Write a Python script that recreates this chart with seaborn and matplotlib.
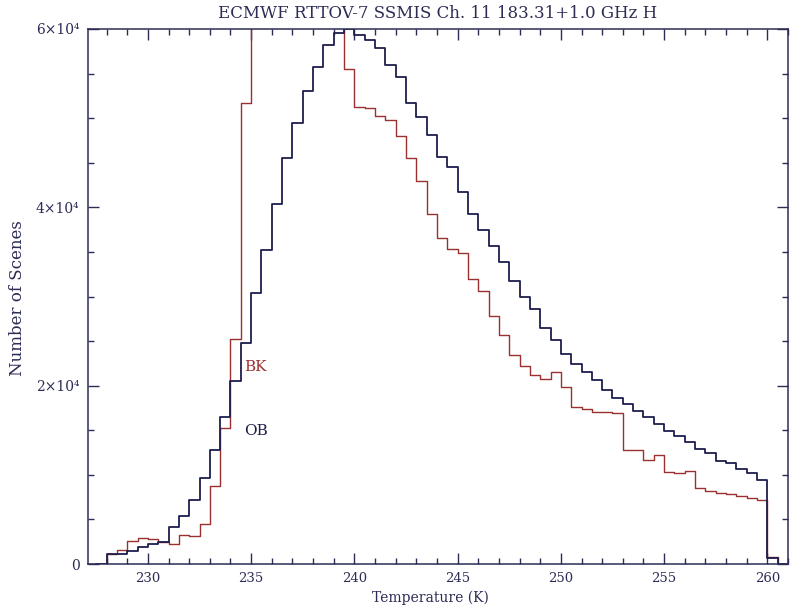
import numpy as np
import pandas as pd
import matplotlib
matplotlib.use("Agg")
import matplotlib.pyplot as plt
import seaborn as sns
from matplotlib.ticker import MultipleLocator

# ---------------- data (counts in units of 10^4 scenes, 0.5 K bins) ----------------
bin_width = 0.5
bin_left = np.arange(227.5, 261.0, bin_width)   # lower edges of the temperature bins (K)

ob_counts = [0.00, 0.11, 0.11, 0.15, 0.19, 0.22, 0.25, 0.42, 0.54, 0.72, 0.97, 1.28, 1.65, 2.05, 2.48,
             3.04, 3.52, 4.04, 4.55, 4.95, 5.30, 5.57, 5.82, 5.95, 6.00,
             5.93, 5.88, 5.79, 5.60, 5.46, 5.17, 5.01, 4.81, 4.56, 4.45,
             4.17, 3.92, 3.75, 3.57, 3.39, 3.17, 3.00, 2.86, 2.65, 2.51,
             2.35, 2.24, 2.15, 2.06, 1.95, 1.86, 1.79, 1.72, 1.65, 1.57,
             1.49, 1.44, 1.37, 1.29, 1.25, 1.16, 1.13, 1.06, 1.02, 0.94,
             0.07, 0.00]

bk_counts = [0.00, 0.11, 0.16, 0.26, 0.29, 0.28, 0.25, 0.22, 0.33, 0.31, 0.45, 0.88, 1.52, 2.52, 5.17,
             6.60, 7.40, 8.00, 8.30, 8.20, 7.80, 7.20, 6.70, 6.30, 5.55,
             5.13, 5.11, 5.02, 4.98, 4.80, 4.55, 4.29, 3.92, 3.66, 3.53,
             3.49, 3.20, 3.06, 2.78, 2.57, 2.34, 2.22, 2.12, 2.07, 2.15,
             1.98, 1.76, 1.74, 1.71, 1.70, 1.69, 1.28, 1.28, 1.17, 1.22,
             1.03, 1.02, 1.04, 0.85, 0.82, 0.80, 0.79, 0.76, 0.74, 0.72,
             0.08, 0.00]

series_names = ["OB", "BK"]
x_ticks = [230, 235, 240, 245, 250, 255, 260]
y_ticks = [0, 2, 4, 6]
y_tick_labels = ["0", "2×10⁴", "4×10⁴", "6×10⁴"]
title_text = "ECMWF RTTOV-7 SSMIS Ch. 11 183.31+1.0 GHz H"
x_label = "Temperature (K)"
y_label = "Number of Scenes"

# ---------------- styling ----------------
sns.set_theme(style="ticks")
plt.rcParams["font.family"] = ["DejaVu Serif", "Liberation Serif"]

ink = "#2c2c55"
ob_color = "#1e1e4e"
bk_color = "#9a3030"

n = len(bin_left)
df = pd.DataFrame({
    "T": np.concatenate([bin_left + bin_width / 2, bin_left + bin_width / 2]),
    "count": ob_counts + bk_counts,
    "series": [series_names[0]] * n + [series_names[1]] * n,
})
edges = [float(e) for e in np.append(bin_left, bin_left[-1] + bin_width)]

fig = plt.figure(figsize=(7.9, 6.09), dpi=100)
ax = fig.add_axes([88 / 790, 1 - 564 / 609, 700 / 790, 535 / 609])

for name, color, lw in [("BK", bk_color, 1.0), ("OB", ob_color, 1.3)]:
    sub = df[df["series"] == name]
    sns.histplot(data=sub, x="T", weights="count", bins=edges, element="step",
                 fill=False, color=color, linewidth=lw, ax=ax)

ax.set_xlim(227.1, 261.0)
ax.set_ylim(0, 6)
ax.set_xticks(x_ticks)
ax.set_xticklabels([str(t) for t in x_ticks])
ax.set_yticks(y_ticks)
ax.set_yticklabels(y_tick_labels)
ax.xaxis.set_minor_locator(MultipleLocator(1))
ax.yaxis.set_minor_locator(MultipleLocator(0.5))
ax.tick_params(which="both", direction="in", top=True, right=True, color=ink,
               labelcolor=ink, width=1.0)
ax.tick_params(axis="x", labelsize=9.5)
ax.tick_params(axis="y", labelsize=10)
ax.tick_params(which="major", length=8, pad=6)
ax.tick_params(which="minor", length=4.5)
for sp in ax.spines.values():
    sp.set_color(ink)
    sp.set_linewidth(1.1)
ax.set_xlabel("")
ax.set_ylabel("")

fig.text(438 / 790, 1 - 14 / 609, title_text, ha="center", va="center",
         fontsize=12, color=ink)
fig.text(430 / 790, 1 - 598 / 609, x_label, ha="center", va="center",
         fontsize=10, color=ink)
fig.text(18 / 790, 1 - 298 / 609, y_label, ha="center", va="center",
         rotation=90, fontsize=12, color=ink)

ax.text(234.65, 2.21, "BK", color=bk_color, fontsize=11, va="center", ha="left")
ax.text(234.65, 1.49, "OB", color=ob_color, fontsize=11, va="center", ha="left")

fig.savefig("out.png", dpi=100, facecolor="white")
